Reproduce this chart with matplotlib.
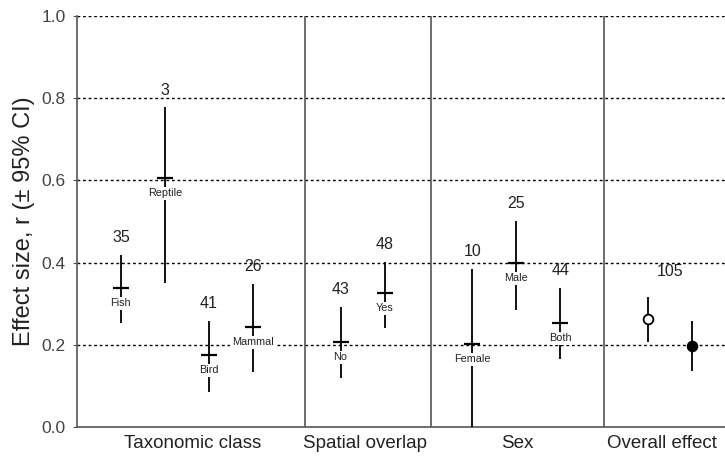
import matplotlib
matplotlib.use("Agg")
import matplotlib.pyplot as plt

plt.rcParams['font.family'] = ['Liberation Sans', 'DejaVu Sans']

# ---- data ----
groups = ["Taxonomic class", "Spatial overlap", "Sex", "Overall effect"]
categories = ["Fish", "Reptile", "Bird", "Mammal", "No", "Yes",
              "Female", "Male", "Both", "", ""]
group_of = [0, 0, 0, 0, 1, 1, 2, 2, 2, 3, 3]
means = [0.338, 0.606, 0.175, 0.243, 0.207, 0.326, 0.202, 0.399, 0.253, 0.263, 0.197]
upper = [0.418, 0.778, 0.258, 0.348, 0.292, 0.402, 0.384, 0.501, 0.338, 0.316, 0.258]
lower = [0.253, 0.350, 0.085, 0.134, 0.119, 0.240, 0.000, 0.285, 0.165, 0.207, 0.136]
counts = ["35", "3", "41", "26", "43", "48", "10", "25", "44", "105", ""]
yticks = [0.0, 0.2, 0.4, 0.6, 0.8, 1.0]

# ---- layout ----
xpos = [1, 2, 3, 4, 6, 7, 9, 10, 11, 13, 14]
dividers = [5.2, 8.05, 12.0]
group_centers = [2.64, 6.55, 10.02, 13.32]

fig = plt.figure(figsize=(7.25, 4.58), dpi=100)
ax = fig.add_axes([77/725, 1 - 427/458, 648/725, 411/458])
ax.set_xlim(0, 14.75)
ax.set_ylim(0, 1.0)

frame_col = '#555555'
for y in yticks[1:]:
    ax.axhline(y, color='black', lw=1.0, ls=(0, (2, 2)), zorder=1)
for d in dividers:
    ax.axvline(d, color=frame_col, lw=1.2, zorder=2)

for i, x in enumerate(xpos):
    ax.vlines(x, lower[i], upper[i], color='black', lw=1.3, zorder=3)
    if group_of[i] == 3:
        face = 'white' if counts[i] else 'black'
        ax.plot(x, means[i], 'o', ms=7, mfc=face, mec='black', mew=1.3, zorder=5)
    else:
        ax.plot(x, means[i], '_', ms=12, mew=1.6, color='black', zorder=5)
        ax.annotate(categories[i], (x, means[i]), xytext=(0, -11), textcoords='offset points',
                    ha='center', va='center', fontsize=7.8, color='#222222', zorder=6,
                    bbox=dict(boxstyle='square,pad=0.15', fc='white', ec='none'))
    if counts[i]:
        if group_of[i] == 3:
            cx = (xpos[i] + xpos[i + 1]) / 2
            cy = max(upper[i], upper[i + 1])
            ax.annotate(counts[i], (cx, cy), xytext=(0, 13), textcoords='offset points',
                        ha='center', va='bottom', fontsize=11.5, color='#222222')
        else:
            ax.annotate(counts[i], (x, upper[i]), xytext=(0, 7), textcoords='offset points',
                        ha='center', va='bottom', fontsize=11.5, color='#222222')

ax.set_yticks(yticks)
ax.set_yticklabels([f"{v:.1f}" for v in yticks], fontsize=12.5, color='#444444')
ax.tick_params(axis='y', length=3, color=frame_col, pad=5)
ax.set_xticks(group_centers)
ax.set_xticklabels(groups, fontsize=13.5, color='#222222')
ax.tick_params(axis='x', length=0, pad=6)
ax.set_ylabel("Effect size, r (± 95% CI)", fontsize=17, color='#222222', labelpad=5)

for s in ['top', 'right']:
    ax.spines[s].set_visible(False)
for s in ['left', 'bottom']:
    ax.spines[s].set_color(frame_col)
    ax.spines[s].set_linewidth(1.2)

fig.savefig("out.png", dpi=100)
